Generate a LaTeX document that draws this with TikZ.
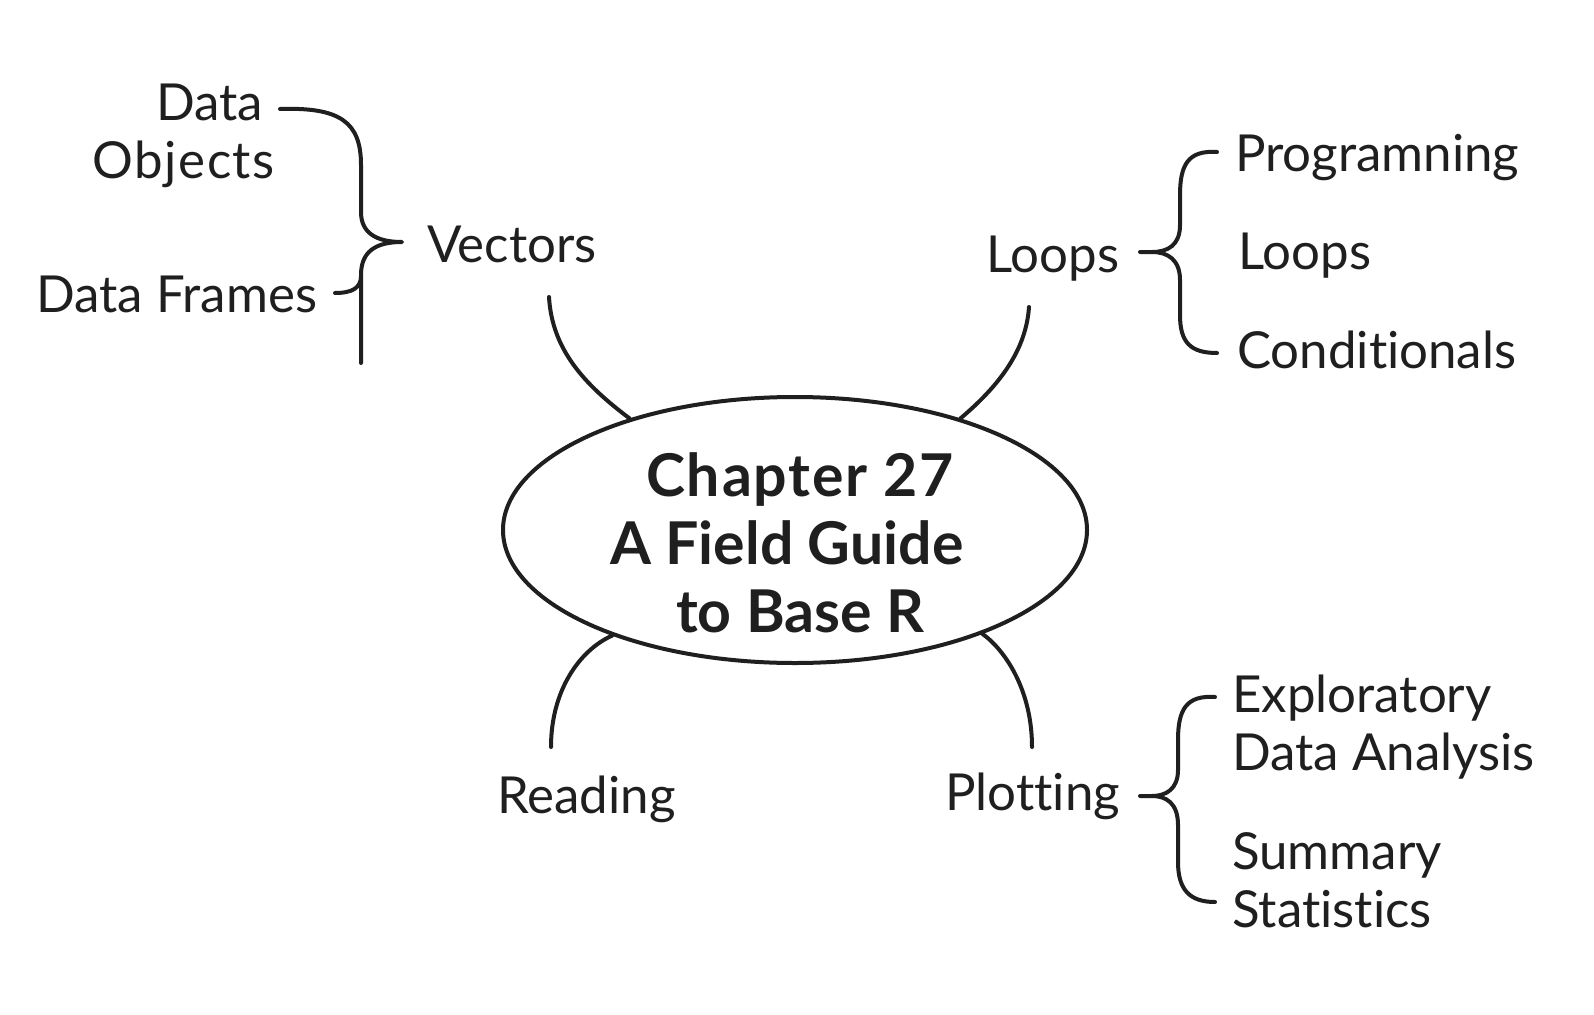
\documentclass[tikz,border=0pt]{standalone}
\usepackage{fontspec}
\setmainfont{Lato}[Ligatures=NoCommon]
\usetikzlibrary{shapes.geometric}
\tikzset{
  lbl/.style={inner sep=0pt, font=\fontsize{51}{58}\selectfont, text=black!88},
  ttlfont/.style={inner sep=0pt, font=\bfseries\fontsize{59}{68}\selectfont, text=black!88},
  ln/.style={line width=4pt, line cap=round, line join=round, draw=black!88},
}
\begin{document}
\begin{tikzpicture}[x=1pt,y=-1pt]
\fill[white] (0,0) rectangle (1594,1014);
\useasboundingbox (0,0) rectangle (1594,1014);

% central ellipse
\node[ellipse, ln, minimum width=584pt, minimum height=266pt, inner sep=0pt] (ell) at (795,530) {};
\node[ttlfont, anchor=base west, align=left] (ttl) at (610,632) {\hspace*{36pt}{\addfontfeature{LetterSpace=3}Chapter 27}\\A Field Guide\\\hspace*{66pt}to Base R};

% labels
\node[lbl, anchor=base east, align=right] (dobj) at (275,178) {Data\hspace*{12pt}\\{\addfontfeature{LetterSpace=3}Objects}};
\node[lbl, anchor=base west] (dfr) at (36,312) {Data Frames};
\node[lbl, anchor=base west] (vec) at (427,262) {Vectors};
\node[lbl, anchor=base west] (loopsA) at (986,272) {Loops};
\node[lbl, anchor=base west] (prog) at (1235,171) {Programning};
\node[lbl, anchor=base west] (loopsB) at (1238,269) {Loops};
\node[lbl, anchor=base west] (cond) at (1237,368) {Conditionals};
\node[lbl, anchor=base west] (read) at (497,813) {Reading};
\node[lbl, anchor=base west] (plot) at (945,810) {Plotting};
\node[lbl, anchor=base west, align=left] (eda) at (1232,770) {Exploratory\\Data Analysis};
\node[lbl, anchor=base west, align=left] (sumst) at (1232,927) {Summary\\Statistics};

% connector end points
\coordinate (vecS) at (549,297);
\coordinate (loopS) at (1029,307);
\coordinate (readS) at (551,747);
\coordinate (plotS) at (1032,747);

\draw[ln] (vecS) .. controls (552,350) and (585,385) .. (ell.146);
\draw[ln] (loopS) .. controls (1026,350) and (1000,385) .. (ell.34);
\draw[ln] (readS) .. controls (551,690) and (580,650) .. (ell.210);
\draw[ln] (plotS) .. controls (1032,690) and (1005,650) .. (ell.331);

% left brace (Vectors)
\coordinate (lbTop) at (280,109);
\coordinate (lbTip) at (402,242);
\coordinate (lbBot) at (361,363);
\coordinate (lbBr) at (335,293);
\draw[ln] (lbTop) .. controls (340,107) and (361,122) .. (361,165) -- (361,212)
  .. controls (361,232) and (375,242) .. (lbTip)
  .. controls (375,242) and (361,252) .. (361,275) -- (lbBot);
\draw[ln] (lbBr) .. controls (352,293) and (361,288) .. (361,276);

% Loops brace
\coordinate (rbTop) at (1217,152);
\coordinate (rbTip) at (1140,252);
\coordinate (rbBot) at (1217,353);
\draw[ln] (rbTop) .. controls (1188,150) and (1180,165) .. (1180,195) -- (1180,225)
  .. controls (1180,245) and (1168,252) .. (1152,252) -- (rbTip);
\draw[ln] (1152,252) .. controls (1168,252) and (1180,260) .. (1180,280) -- (1180,315)
  .. controls (1180,342) and (1190,353) .. (rbBot);

% Plotting brace
\coordinate (pbTop) at (1215,697);
\coordinate (pbTip) at (1140,796);
\coordinate (pbBot) at (1215,902);
\draw[ln] (pbTop) .. controls (1186,695) and (1178,710) .. (1178,740) -- (1178,770)
  .. controls (1178,789) and (1166,796) .. (1152,796) -- (pbTip);
\draw[ln] (1152,796) .. controls (1166,796) and (1178,803) .. (1178,825) -- (1178,862)
  .. controls (1178,890) and (1190,902) .. (pbBot);
\end{tikzpicture}
\end{document}
